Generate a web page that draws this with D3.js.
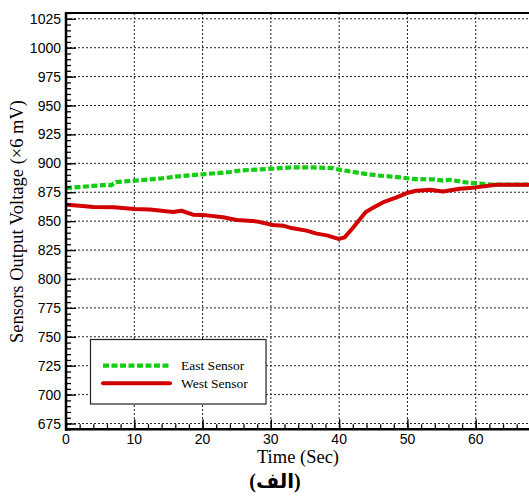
<!DOCTYPE html>
<html><head><meta charset="utf-8">
<script src="https://cdn.jsdelivr.net/npm/d3@7"></script>
<style>body{margin:0;background:#fff}svg{display:block}</style>
</head><body>
<script>
const eastTime = [0,2,4,6,6.6,7.3,10,14,16,20,24,25.5,30,33,36,39,40,43,45.5,49,51,54,55.2,56.2,58.6,60,62,64,68];
const eastVolt = [878.6,879.5,880.5,881.5,881,883.8,885,887,888.5,890.5,892.5,893.8,895.3,896.5,896.5,895.9,894.5,891.6,889.6,887.8,886.4,886.1,885,885.8,883.5,882.7,881.8,881.5,881.5];
const westTime = [0,2,4,7,10,12.3,15.7,16.9,18.6,20.6,23,25,27.9,30.3,31.8,33,35.2,36.7,38.2,39.9,40.8,42,43.9,44.9,46.4,48.4,49.9,51.3,53.3,55.2,57.7,60,63,68];
const westVolt = [864.2,863.4,862.3,862,860.5,860,857.9,859,855.6,855,853.3,851,849.8,846.7,846.1,844,841.8,839.2,837.7,834.6,836,844.1,858,861.4,866.2,870.6,874.3,876.3,877.2,875.7,878.1,879.2,881.5,881.5];
const seriesNames = ["East Sensor","West Sensor"];
const xTicks = [0,10,20,30,40,50,60];
const yTicks = [675,700,725,750,775,800,825,850,875,900,925,950,975,1000,1025];
const xMinor = d3.range(0,68,2);
const yMinor = d3.range(670,1031,5);

const W=529,H=499;
const svg=d3.select("body").append("svg").attr("width",W).attr("height",H);
const x=d3.scaleLinear().domain([0,67.8]).range([66,529]);
const y=d3.scaleLinear().domain([670,1030]).range([429.3,13]);
const L=66,R=529,T=13,B=429.3;

// grid
const g=svg.append("g");
g.selectAll(".hg").data(yTicks).join("line")
 .attr("x1",L).attr("x2",R).attr("y1",d=>y(d)).attr("y2",d=>y(d))
 .attr("stroke","#222").attr("stroke-width",1).attr("stroke-dasharray","2,2");
g.selectAll(".vg").data(xTicks.filter(d=>d>0)).join("line")
 .attr("x1",d=>x(d)).attr("x2",d=>x(d)).attr("y1",T).attr("y2",B)
 .attr("stroke","#222").attr("stroke-width",1).attr("stroke-dasharray","2,2");

// lines
svg.append("clipPath").attr("id","c").append("rect").attr("x",L).attr("y",T).attr("width",R-L).attr("height",B-T);
const line=d3.line().x(d=>x(d[0])).y(d=>y(d[1]));
const east=eastTime.map((t,i)=>[t,eastVolt[i]]);
const west=westTime.map((t,i)=>[t,westVolt[i]]);
svg.append("path").attr("clip-path","url(#c)").attr("d",line(east)).attr("fill","none")
 .attr("stroke","#14cc14").attr("stroke-width",4.2).attr("stroke-dasharray","6,2.5");
svg.append("path").attr("clip-path","url(#c)").attr("d",line(west)).attr("fill","none")
 .attr("stroke","#d20000").attr("stroke-width",4).attr("stroke-linejoin","round");

// axes
const yAx=d3.axisRight(y).tickValues(yTicks).tickSize(10).tickFormat("");
const yAxMin=d3.axisRight(y).tickValues(yMinor).tickSize(5).tickFormat("");
[yAx,yAxMin].forEach(a=>{
 const ga=svg.append("g").attr("transform",`translate(${L},0)`).call(a);
 ga.select(".domain").remove();
 ga.selectAll("line").attr("stroke","#000").attr("stroke-width",1.3);
});
const xAx=d3.axisTop(x).tickValues(xTicks).tickSize(10).tickFormat("");
const xAxMin=d3.axisTop(x).tickValues(xMinor).tickSize(5).tickFormat("");
[xAx,xAxMin].forEach(a=>{
 const ga=svg.append("g").attr("transform",`translate(0,${B})`).call(a);
 ga.select(".domain").remove();
 ga.selectAll("line").attr("stroke","#000").attr("stroke-width",1.3);
});
svg.append("line").attr("x1",L).attr("x2",L).attr("y1",T-1).attr("y2",B+1.5).attr("stroke","#000").attr("stroke-width",2.5);
svg.append("line").attr("x1",L-1).attr("x2",R).attr("y1",B).attr("y2",B).attr("stroke","#000").attr("stroke-width",2.5);
svg.append("line").attr("x1",L-1).attr("x2",R).attr("y1",T).attr("y2",T).attr("stroke","#000").attr("stroke-width",2);

// tick labels
svg.selectAll(".yl").data(yTicks).join("text")
 .attr("x",61).attr("y",d=>y(d)).attr("dy","0.36em").attr("text-anchor","end")
 .attr("font-family","Liberation Sans, Arial, sans-serif").attr("font-size",14).text(d=>d);
svg.selectAll(".xl").data(xTicks).join("text")
 .attr("x",d=>x(d)).attr("y",444).attr("text-anchor","middle")
 .attr("font-family","Liberation Sans, Arial, sans-serif").attr("font-size",14).text(d=>d);

// titles
svg.append("text").attr("x",298).attr("y",463).attr("text-anchor","middle")
 .attr("font-family","Liberation Serif, Times New Roman, serif").attr("font-size",18.5).text("Time (Sec)");
svg.append("text").attr("transform","translate(23,221.5) rotate(-90)").attr("text-anchor","middle")
 .attr("font-family","Liberation Serif, Times New Roman, serif").attr("font-size",18.5).text("Sensors Output Voltage (×6 mV)");
svg.append("text").attr("x",275).attr("y",488).attr("text-anchor","middle")
 .attr("font-family","Liberation Serif, DejaVu Sans, serif").attr("font-weight","bold").attr("font-size",20).text("(الف)");

// legend
const lg=svg.append("g");
lg.append("rect").attr("x",90.5).attr("y",339.5).attr("width",175.5).attr("height",64.5)
 .attr("fill","#fff").attr("stroke","#222").attr("stroke-width",1.2);
const ly=[365.7,383.3];
lg.append("line").attr("x1",103).attr("x2",170).attr("y1",ly[0]).attr("y2",ly[0])
 .attr("stroke","#14cc14").attr("stroke-width",4.2).attr("stroke-dasharray","6,2.5");
lg.append("line").attr("x1",103).attr("x2",170).attr("y1",ly[1]).attr("y2",ly[1])
 .attr("stroke","#d20000").attr("stroke-width",4).attr("stroke-linecap","round");
lg.selectAll(".lt").data(seriesNames).join("text").attr("x",181).attr("y",(d,i)=>ly[i]).attr("dy","0.35em")
 .attr("font-family","Liberation Serif, Times New Roman, serif").attr("font-size",13.5).text(d=>d);
</script>
</body></html>
